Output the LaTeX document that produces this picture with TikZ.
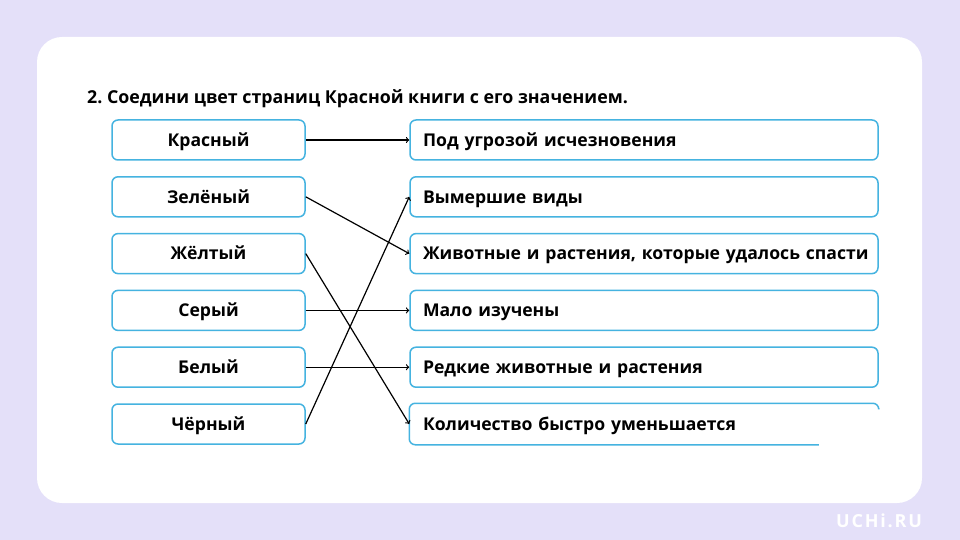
\documentclass[tikz,border=0pt]{standalone}
\usepackage{fontspec}
\setmainfont{Open Sans}
\definecolor{lavender}{HTML}{E4E0F9}
\definecolor{boxline}{HTML}{45B3E0}
\begin{document}
\begin{tikzpicture}[x=1pt,y=-1pt,
  lbox/.style={draw=boxline,line width=1.5pt,rounded corners=6pt,fill=white,
    minimum width=193pt,minimum height=40pt,text height=12.5pt,text depth=0pt,
    font=\bfseries\fontsize{17.6}{20}\selectfont},
  rbox/.style={draw=boxline,line width=1.5pt,rounded corners=6pt,fill=white,
    minimum width=468pt,minimum height=40pt,text width=442pt,align=left,
    text height=12.5pt,text depth=0pt,font=\bfseries\fontsize{17.6}{20}\selectfont},
  link/.style={->,line width=1.2pt}]
\useasboundingbox (0,0) rectangle (960,540);
\fill[lavender] (0,0) rectangle (960,540);
\fill[white,rounded corners=25pt] (37,37) rectangle (922,503);
\node[anchor=west,inner sep=0pt,font=\bfseries\fontsize{17.8}{20}\selectfont] (title) at (87,99)
  {2.~Соедини цвет страниц Красной книги с его значением.};
\foreach \i/\t in {1/Красный,2/Зелёный,3/Жёлтый,4/Серый,5/Белый,6/Чёрный}{
\node[lbox] (l\i) at (208.5,{140+56.8*(\i-1)}) {\t};
}
\foreach \i/\t in {1/Под угрозой исчезновения,2/Вымершие виды,
  3/{\mbox{Животные и растения, которые удалось спасти}},4/Мало изучены,
  5/Редкие животные и растения}{
\node[rbox] (r\i) at (644,{140+56.8*(\i-1)}) {\t};
}
% the last box is cut at the right
\node[rbox,draw=none] (r6) at (644,{140+56.8*5}) {Количество быстро уменьшается};
\draw[boxline,line width=1.5pt,rounded corners=6pt]
  ([xshift=-60pt]r6.south east) -| (r6.north west) -| ([yshift=-5pt]r6.north east);

\draw[link] (l1.east) -- (r1.west);
\draw[link] (l2.east) -- (r3.west);
\draw[link] (l3.east) -- (r6.west);
\draw[link] (l4.east) -- (r4.west);
\draw[link] (l5.east) -- (r5.west);
\draw[link] (l6.east) -- (r2.west);

\node[white,font=\bfseries\fontsize{18}{20}\selectfont\addfontfeature{LetterSpace=10}] (logo) at (879,521) {UCHi.RU};
\end{tikzpicture}
\end{document}
